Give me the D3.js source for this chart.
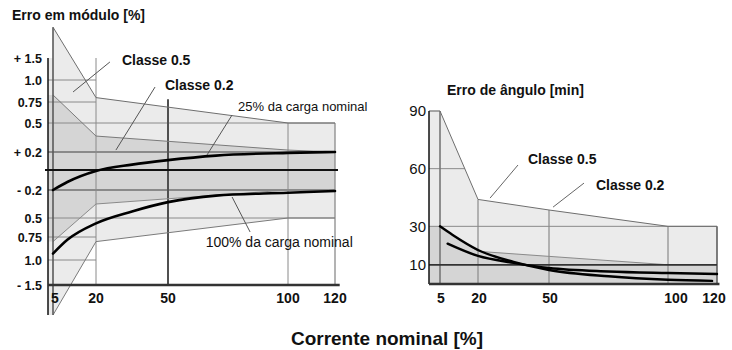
<!DOCTYPE html>
<html lang="pt">
<head>
<meta charset="UTF-8">
<title>Erro de módulo e de ângulo</title>
<script src="https://cdn.jsdelivr.net/npm/d3@7"></script>
<style>
  body { margin: 0; background: #fff; }
  svg text { font-family: "Liberation Sans", Arial, sans-serif; fill: #111; }
  .b { font-weight: bold; }
</style>
</head>
<body>
<script>
// ---- data ----
var currentTicks = [5, 20, 50, 100, 120];

// magnitude error (left), schematic scale
var modTicks  = [1.5, 1, 0.75, 0.5, 0.2, -0.2, -0.5, -0.75, -1, -1.5];
var modLabels = ["+ 1.5", "1.0", "0.75", "0.5", "+ 0.2", "- 0.2", "0.5", "0.75", "1.0", "- 1.5"];
var mod05Upper = [[5, 2.2], [20, 0.8], [100, 0.5], [120, 0.5]];
var mod05Lower = [[5, -2.1], [20, -0.8], [100, -0.5], [120, -0.5]];
var mod02Upper = [[5, 0.83], [20, 0.365], [100, 0.22], [120, 0.2]];
var mod02Lower = [[5, -0.8], [20, -0.35], [100, -0.2], [120, -0.2]];
var load25  = [[5, -0.2], [10, -0.12], [20, -0.01], [35, 0.06], [50, 0.11], [70, 0.16], [100, 0.19], [120, 0.2]];
var load100 = [[5, -0.93], [10, -0.78], [20, -0.57], [35, -0.43], [50, -0.33], [70, -0.26], [100, -0.23], [120, -0.21]];

// phase error (right), minutes
var angTicks = [90, 60, 30, 10];
var ang05 = [[5, 90], [20, 44], [50, 38.5], [100, 30], [120, 30]];
var ang02 = [[5, 30], [20, 17], [100, 10], [120, 10]];
var angCurveA = [[5, 30], [10, 25.5], [20, 17.7], [35, 11.5], [50, 7.3], [75, 4], [100, 2.2], [118, 1.6]];
var angCurveB = [[8, 21], [20, 14.6], [35, 11], [50, 8.3], [75, 6.5], [100, 5.7], [120, 5.2]];

var LIGHT = "#ebebeb", DARK = "#d5d5d5";

var svg = d3.select("body").append("svg")
  .attr("width", 732).attr("height", 350);

var line = d3.line().x(function(d) { return d[0]; }).y(function(d) { return d[1]; });

// helper: polyline in data space
function path(g, pts, sx, sy, stroke, w, fill) {
  return g.append("path")
    .attr("d", line(pts.map(function(p) { return [sx(p[0]), sy(p[1])]; })) + (fill ? "Z" : ""))
    .attr("fill", fill || "none")
    .attr("stroke", stroke || "none")
    .attr("stroke-width", w || 1);
}

// ================= left chart =================
var xL = d3.scaleLinear().domain([0, 5, 20, 50, 100, 120]).range([48, 53, 96, 168, 288, 335]);
var yL = d3.scaleLinear()
  .domain([-1.5, -1, -0.75, -0.5, -0.2, 0, 0.2, 0.5, 0.75, 1, 1.5])
  .range([285, 260, 237, 218, 190, 170, 152, 123, 102, 80, 58]);

var gL = svg.append("g");

// class 0.5 band
var poly05 = [[0, 1.5], [5, 1.5]].concat(mod05Upper, mod05Lower.slice().reverse(), [[0, mod05Lower[0][1]]]);
path(gL, poly05, xL, yL, "none", 0, LIGHT);
// class 0.2 band
var poly02 = [[0, mod02Upper[0][1]]].concat(mod02Upper, mod02Lower.slice().reverse(), [[0, mod02Lower[0][1]]]);
path(gL, poly02, xL, yL, "none", 0, DARK);

// horizontal grid
[0.5, -0.5].forEach(function(v) { path(gL, [[0, v], [120, v]], xL, yL, "#8a8a8a", 1); });
[0.2, -0.2].forEach(function(v) { path(gL, [[0, v], [120, v]], xL, yL, "#707070", 1.3); });
[1, 0.75, -0.75, -1].forEach(function(v) { path(gL, [[0, v], [20, v]], xL, yL, "#8a8a8a", 1); });

// vertical grid
path(gL, [[20, 1.5], [20, -1.5]], xL, yL, "#8a8a8a", 1);
path(gL, [[50, 0.78], [50, -1.5]], xL, yL, "#505050", 2);
path(gL, [[100, 0.5], [100, -1.5]], xL, yL, "#8a8a8a", 1);
path(gL, [[120, 0.5], [120, -1.5]], xL, yL, "#8a8a8a", 1.3);

// band outlines
path(gL, mod05Upper, xL, yL, "#6e6e6e", 1);
path(gL, mod05Lower, xL, yL, "#7a7a7a", 1);
path(gL, mod02Upper, xL, yL, "#7a7a7a", 1);
path(gL, mod02Lower, xL, yL, "#8a8a8a", 1);
path(gL, [[5, mod05Upper[0][1]], [5, mod05Lower[0][1]]], xL, yL, "#5a5a5a", 1.6);

// axes
path(gL, [[0, 1.5], [0, mod05Lower[0][1]]], xL, yL, "#111", 1.5);
path(gL, [[0, -1.5], [122, -1.5]], xL, yL, "#333", 2.5);
gL.append("line")
  .attr("x1", xL(0) - 3).attr("x2", xL(120) + 3)
  .attr("y1", yL(0)).attr("y2", yL(0))
  .attr("stroke", "#111").attr("stroke-width", 2);

// load curves
var smooth = d3.line().curve(d3.curveMonotoneX);
[load25, load100].forEach(function(c) {
  gL.append("path")
    .attr("d", smooth(c.map(function(p) { return [xL(p[0]), yL(p[1])]; })))
    .attr("fill", "none").attr("stroke", "#000").attr("stroke-width", 2.6)
    .attr("stroke-linecap", "round");
});

// leaders
[[[25.8, 1.41], [12, 0.864]],
 [[44.6, 0.92], [28.3, 0.22]],
 [[76.7, 0.595], [66.25, 0.167]],
 [[76.7, -0.275], [84.2, -0.684]]].forEach(function(l) {
  path(gL, l, xL, yL, "#555", 1);
});

// labels
gL.append("text").attr("class", "b").attr("x", 12).attr("y", 20)
  .style("font-size", "14px").text("Erro em módulo [%]");
gL.append("text").attr("class", "b").attr("x", xL(30.8)).attr("y", yL(1.34))
  .style("font-size", "14px").text("Classe 0.5");
gL.append("text").attr("class", "b").attr("x", xL(48.75)).attr("y", yL(0.886))
  .style("font-size", "14px").text("Classe 0.2");
gL.append("text").attr("x", xL(79.2)).attr("y", yL(0.643))
  .style("font-size", "13px").text("25% da carga nominal");
gL.append("text").attr("x", xL(65.7)).attr("y", yL(-0.864))
  .style("font-size", "14px").text("100% da carga nominal");

gL.selectAll("text.yt").data(modTicks).enter().append("text")
  .attr("class", "yt b")
  .attr("x", 42).attr("y", function(d) { return yL(d); }).attr("dy", "0.36em")
  .attr("text-anchor", "end").style("font-size", "12.5px")
  .text(function(d, i) { return modLabels[i]; });

gL.selectAll("text.xt").data(currentTicks).enter().append("text")
  .attr("class", "xt b")
  .attr("x", function(d) { return xL(d) + (d === 5 ? 2 : 0); }).attr("y", 303)
  .attr("text-anchor", "middle").style("font-size", "14px")
  .text(function(d) { return d; });

// ================= right chart =================
var xR = d3.scaleLinear().domain([0, 5, 20, 50, 100, 120]).range([429, 440, 478, 549, 668, 717]);
var yR = d3.scaleLinear().domain([0, 90]).range([284, 111]);

var gR = svg.append("g");

var pa05 = [[0, 90]].concat(ang05, [[120, 0], [0, 0]]);
path(gR, pa05, xR, yR, "none", 0, LIGHT);
var pa02 = [[0, 30]].concat(ang02, [[120, 0], [0, 0]]);
path(gR, pa02, xR, yR, "none", 0, DARK);

// grid
path(gR, [[0, 90], [5, 90]], xR, yR, "#8a8a8a", 1.5);
path(gR, [[0, 60], [14.8, 60]], xR, yR, "#8a8a8a", 1);
path(gR, [[0, 30], [120, 30]], xR, yR, "#8a8a8a", 1);
path(gR, [[5, 90], [5, 0]], xR, yR, "#777", 1.6);
[20, 50].forEach(function(v, i) {
  path(gR, [[v, ang05[i + 1][1]], [v, 0]], xR, yR, "#8a8a8a", 1.2);
});
path(gR, [[100, 30], [100, 0]], xR, yR, "#8a8a8a", 1.2);
path(gR, [[120, 30], [120, 0]], xR, yR, "#555", 1.5);

// outlines
path(gR, ang05, xR, yR, "#6e6e6e", 1);
path(gR, ang02, xR, yR, "#8a8a8a", 1);
path(gR, [[0, 10], [120, 10]], xR, yR, "#333", 1.8);

// axes
path(gR, [[0, 90], [0, 0]], xR, yR, "#111", 1.5);
path(gR, [[0, 0], [121, 0]], xR, yR, "#333", 2.5);

[angCurveA, angCurveB].forEach(function(c) {
  gR.append("path")
    .attr("d", smooth(c.map(function(p) { return [xR(p[0]), yR(p[1])]; })))
    .attr("fill", "none").attr("stroke", "#000").attr("stroke-width", 2.4)
    .attr("stroke-linecap", "round");
});

[[[36.9, 61.9], [25.1, 44.7]],
 [[64.7, 52.5], [51.7, 40]]].forEach(function(l) {
  path(gR, l, xR, yR, "#666", 1);
});

gR.append("text").attr("class", "b").attr("x", 447).attr("y", 95)
  .style("font-size", "14px").text("Erro de ângulo [min]");
gR.append("text").attr("class", "b").attr("x", xR(41.1)).attr("y", yR(62.4))
  .style("font-size", "14px").text("Classe 0.5");
gR.append("text").attr("class", "b").attr("x", xR(69.7)).attr("y", yR(48.9))
  .style("font-size", "14px").text("Classe 0.2");

gR.selectAll("text.yt").data(angTicks).enter().append("text")
  .attr("class", "yt")
  .attr("x", 426).attr("y", function(d) { return yR(d); }).attr("dy", "0.36em")
  .attr("text-anchor", "end").style("font-size", "15px")
  .text(function(d) { return d; });

gR.selectAll("text.xt").data(currentTicks).enter().append("text")
  .attr("class", "xt b")
  .attr("x", function(d) { return xR(d) + (d === 100 ? 8 : d === 120 ? -3 : 1); }).attr("y", 303)
  .attr("text-anchor", "middle").style("font-size", "14px")
  .text(function(d) { return d; });

// shared x title
svg.append("text").attr("class", "b")
  .attr("x", 387).attr("y", 345).attr("text-anchor", "middle")
  .style("font-size", "19px").text("Corrente nominal [%]");
</script>
</body>
</html>
